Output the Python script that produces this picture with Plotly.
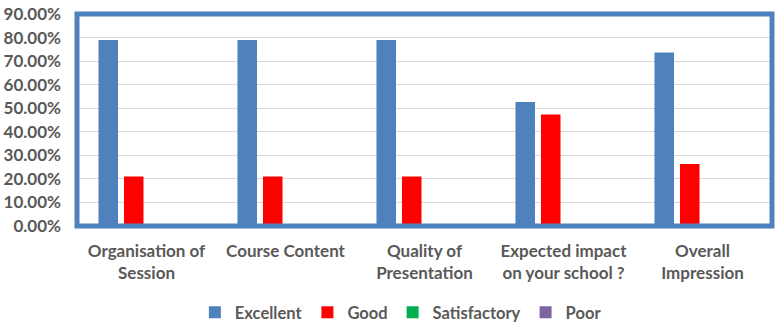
import plotly.graph_objects as go

# Survey feedback by question, share of respondents per rating
categories = [
    "Organisation of<br>Session",
    "Course Content",
    "Quality of<br>Presentation",
    "Expected impact<br>on your school ?",
    "Overall<br>Impression",
]
excellent = [0.7895, 0.7895, 0.7895, 0.5263, 0.7368]
good = [0.2105, 0.2105, 0.2105, 0.4737, 0.2632]
satisfactory = [0.0, 0.0, 0.0, 0.0, 0.0]
poor = [0.0, 0.0, 0.0, 0.0, 0.0]

series = [
    ("Excellent", excellent, "#4F81BD"),
    ("Good", good, "#FF0000"),
    ("Satisfactory", satisfactory, "#00B050"),
    ("Poor", poor, "#8064A2"),
]

text_color = "#595959"
font_family = "Lato, 'Open Sans', sans-serif"

fig = go.Figure()
for name, vals, color in series:
    fig.add_trace(go.Bar(name=name, x=categories, y=vals, marker_color=color,
                         marker_line_width=0))

fig.update_layout(
    width=782, height=326,
    margin=dict(l=77, r=10, t=14, b=100, autoexpand=False),
    paper_bgcolor="white", plot_bgcolor="white",
    barmode="group", bargap=0.266, bargroupgap=0.235,
    font=dict(family=font_family, size=17, color=text_color, weight="bold"),
    showlegend=True,
    legend=dict(orientation="h", x=0.466, xanchor="center", y=-0.408, yanchor="middle",
                font=dict(size=16.5, color=text_color, weight="bold"),
                itemwidth=30, tracegroupgap=0),
)
fig.update_xaxes(showgrid=False, showline=False, ticks="", automargin=False,
                 ticklabelstandoff=13,
                 tickfont=dict(size=17, color=text_color, weight="bold"))
fig.update_yaxes(range=[0, 0.9], dtick=0.1, tickformat=".2%", automargin=False,
                 showgrid=True, gridcolor="#D9D9D9", gridwidth=1,
                 zeroline=False, showline=False, ticks="", ticklabelstandoff=15,
                 tickfont=dict(size=17, color=text_color, weight="bold"))

# Thick frame round the plotting area
fig.add_shape(type="rect", xref="paper", yref="paper", x0=0, y0=0, x1=1, y1=1,
              line=dict(color="#4F81BD", width=5), layer="above")

fig.write_html("out.html")
